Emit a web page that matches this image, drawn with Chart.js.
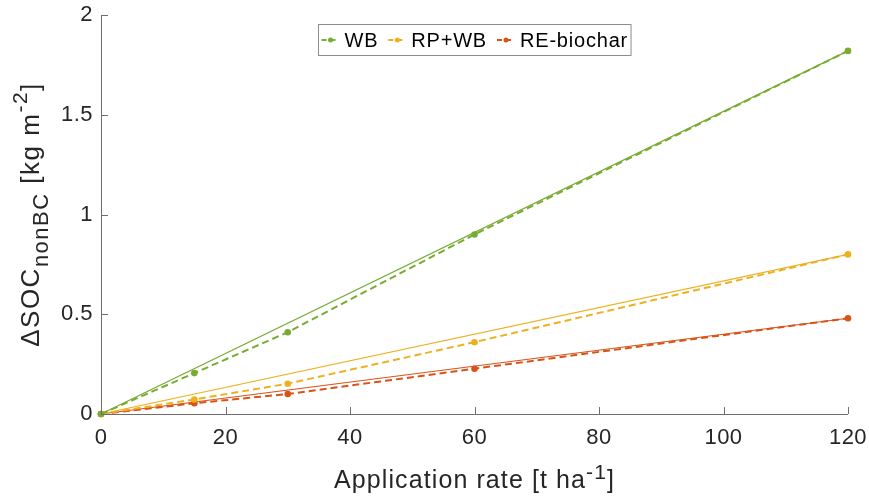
<!DOCTYPE html>
<html>
<head>
<meta charset="utf-8">
<title>SOC nonBC vs application rate</title>
<style>
  html, body { margin: 0; padding: 0; background: #fff; }
  #wrap { width: 869px; height: 497px; position: relative; }
</style>
<script src="https://cdn.jsdelivr.net/npm/chart.js"></script>
</head>
<body>
<div id="wrap"><canvas id="socChart"></canvas></div>
<script>
// application rates [t/ha] and measured ΔSOC (non-BC) [kg/m2]
const rates = [0, 15, 30, 60, 120];
const seriesNames = ['WB', 'RP+WB', 'RE-biochar'];
const socWB = [0, 0.205, 0.41, 0.90, 1.82];
const socRPWB = [0, 0.073, 0.152, 0.36, 0.80];
const socREbiochar = [0, 0.054, 0.10, 0.227, 0.48];
const seriesColors = ['#77AC30', '#EDB120', '#D95319'];
const xTicks = [0, 20, 40, 60, 80, 100, 120];
const yTicks = [0, 0.5, 1, 1.5, 2];

const FONT = '"Liberation Sans", Arial, Helvetica, sans-serif';
const allSeries = [socWB, socRPWB, socREbiochar];

const pts = vals => rates.map((r, i) => ({ x: r, y: vals[i] }));

// dashed measured series
const datasets = allSeries.map((vals, i) => ({
  label: seriesNames[i],
  data: pts(vals),
  showLine: true,
  clip: false,
  borderColor: seriesColors[i],
  backgroundColor: seriesColors[i],
  borderWidth: 2,
  borderDash: [7, 4],
  pointRadius: 3.3,
  pointBorderWidth: 0,
  pointBackgroundColor: seriesColors[i]
}));

// thin straight reference line from origin to the last point
allSeries.forEach((vals, i) => {
  const n = vals.length - 1;
  datasets.push({
    label: seriesNames[i] + ' linear',
    data: [{ x: rates[0], y: vals[0] }, { x: rates[n], y: vals[n] }],
    showLine: true,
    clip: false,
    borderColor: seriesColors[i],
    borderWidth: 1.2,
    pointRadius: 0
  });
});

function setFont(ctx, size, spacing) {
  ctx.font = size + 'px ' + FONT;
  ctx.letterSpacing = (spacing || 0) + 'px';
}

// draws text made of pieces with sub/superscripts, centred on cx
function richText(ctx, parts, cx, baseY, spacing) {
  let w = 0;
  parts.forEach(p => { setFont(ctx, p.size, spacing); w += ctx.measureText(p.t).width; });
  let x = cx - w / 2;
  ctx.textAlign = 'left';
  ctx.textBaseline = 'alphabetic';
  parts.forEach(p => {
    setFont(ctx, p.size, spacing);
    ctx.fillText(p.t, x, baseY + (p.dy || 0));
    x += ctx.measureText(p.t).width;
  });
}

const decorations = {
  id: 'decorations',
  afterDraw(chart) {
    const { ctx, chartArea: a, scales: { x, y } } = chart;
    ctx.save();

    // axis lines with inward ticks
    ctx.strokeStyle = '#6e6e6e';
    ctx.lineWidth = 1;
    ctx.beginPath();
    ctx.moveTo(a.left + 0.5, a.top);
    ctx.lineTo(a.left + 0.5, a.bottom + 0.5);
    ctx.lineTo(a.right, a.bottom + 0.5);
    x.ticks.forEach(t => {
      const px = Math.round(x.getPixelForValue(t.value)) + 0.5;
      ctx.moveTo(px, a.bottom);
      ctx.lineTo(px, a.bottom - 7);
    });
    y.ticks.forEach(t => {
      const py = Math.round(y.getPixelForValue(t.value)) + 0.5;
      ctx.moveTo(a.left, py);
      ctx.lineTo(a.left + 7, py);
    });
    ctx.stroke();

    // tick labels
    ctx.fillStyle = '#262626';
    setFont(ctx, 22, 0.5);
    ctx.textAlign = 'center';
    ctx.textBaseline = 'middle';
    x.ticks.forEach(t => {
      ctx.fillText(String(t.value), x.getPixelForValue(t.value), a.bottom + 24);
    });
    ctx.textAlign = 'right';
    y.ticks.forEach(t => {
      ctx.fillText(String(t.value), a.left - 8, y.getPixelForValue(t.value));
    });

    // axis titles
    richText(ctx, [
      { t: 'Application rate [t ha', size: 25 },
      { t: '-1', size: 21, dy: -9 },
      { t: ']', size: 25 }
    ], (a.left + a.right) / 2, 488, 1.1);

    ctx.save();
    ctx.translate(39, (a.top + a.bottom) / 2);
    ctx.rotate(-Math.PI / 2);
    richText(ctx, [
      { t: '\u0394SOC', size: 26 },
      { t: 'nonBC', size: 22, dy: 9 },
      { t: ' [kg m', size: 26 },
      { t: '-2', size: 21, dy: -12 },
      { t: ']', size: 26 }
    ], 0, 0, 1.5);
    ctx.restore();

    // legend box
    const items = chart.data.datasets.slice(0, seriesNames.length);
    setFont(ctx, 20, 0.8);
    const seg = 18, gap = 5, sep = 10, pad = 3;
    let w = pad * 2;
    items.forEach((d, i) => {
      w += seg + gap + ctx.measureText(d.label).width + (i < items.length - 1 ? sep : 0);
    });
    const bx = Math.round((a.left + a.right) / 2 - w / 2) + 0.5;
    const by = 24.5, bh = 31;
    ctx.fillStyle = '#fff';
    ctx.fillRect(bx, by, w, bh);
    ctx.strokeStyle = '#8c8c8c';
    ctx.strokeRect(bx, by, w, bh);
    let lx = bx + pad;
    const ly = by + bh / 2;
    items.forEach(d => {
      ctx.strokeStyle = d.borderColor;
      ctx.lineWidth = 2;
      ctx.setLineDash([5, 4]);
      ctx.beginPath();
      ctx.moveTo(lx, ly);
      ctx.lineTo(lx + seg, ly);
      ctx.stroke();
      ctx.setLineDash([]);
      ctx.fillStyle = d.borderColor;
      ctx.beginPath();
      ctx.arc(lx + seg / 2, ly, 2.5, 0, Math.PI * 2);
      ctx.fill();
      lx += seg + gap;
      ctx.fillStyle = '#000';
      setFont(ctx, 20, 0.8);
      ctx.textAlign = 'left';
      ctx.textBaseline = 'middle';
      ctx.fillText(d.label, lx, ly + 1);
      lx += ctx.measureText(d.label).width + sep;
    });
    ctx.restore();
  }
};

new Chart(document.getElementById('socChart'), {
  type: 'scatter',
  data: { datasets },
  options: {
    responsive: true,
    maintainAspectRatio: false,
    animation: false,
    layout: { padding: { top: 15, right: 21, left: 0, bottom: 0 } },
    plugins: {
      legend: { display: false },
      tooltip: { enabled: false }
    },
    scales: {
      x: {
        type: 'linear',
        min: 0, max: 120,
        afterBuildTicks: s => { s.ticks = xTicks.map(v => ({ value: v })); },
        afterFit: s => { s.height = 83; },
        grid: { display: false, drawTicks: false },
        border: { display: false },
        ticks: { display: false }
      },
      y: {
        type: 'linear',
        min: 0, max: 2,
        afterBuildTicks: s => { s.ticks = yTicks.map(v => ({ value: v })); },
        afterFit: s => { s.width = 101; },
        grid: { display: false, drawTicks: false },
        border: { display: false },
        ticks: { display: false }
      }
    }
  },
  plugins: [decorations]
});
</script>
</body>
</html>
